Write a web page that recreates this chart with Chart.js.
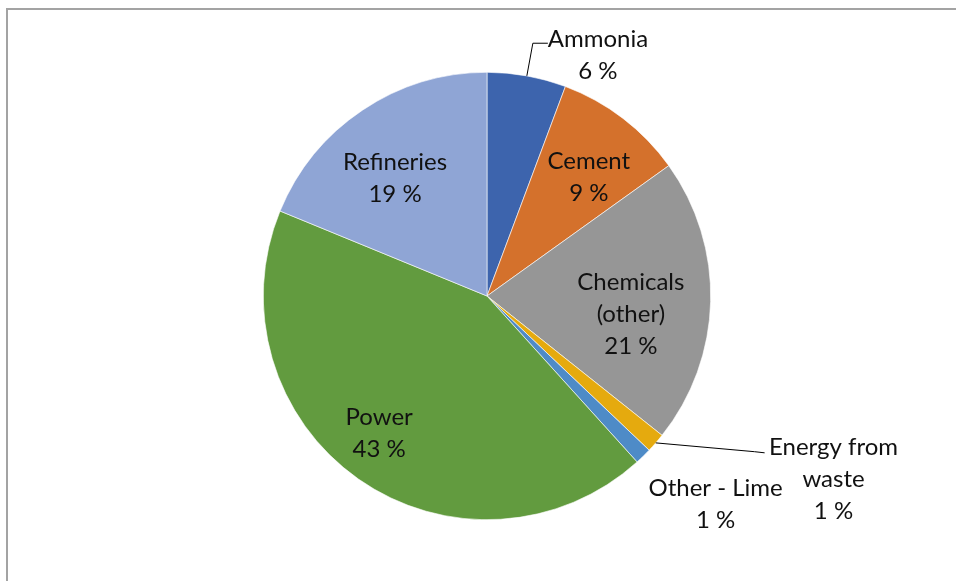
<!DOCTYPE html>
<html>
<head>
<meta charset="utf-8">
<script src="https://cdn.jsdelivr.net/npm/chart.js@4.4.0/dist/chart.umd.min.js"></script>
<style>
    html, body { margin: 0; padding: 0; background: #fff; overflow: hidden; }
    #wrap { position: relative; width: 956px; height: 581px; }
    #frame {
        position: absolute; left: 6px; top: 8px; width: 1000px; height: 1000px;
        border-left: 2px solid #a3a3a3; border-top: 2px solid #a3a3a3;
    }
    canvas { position: absolute; left: 0; top: 0; }
</style>
</head>
<body>
<div id="wrap">
    <div id="frame"></div>
    <canvas id="pie" width="956" height="581"></canvas>
</div>
<script>
// Data
const categories = ['Ammonia', 'Cement', 'Chemicals (other)', 'Energy from waste', 'Other - Lime', 'Power', 'Refineries']
const shares = [5.7, 9.4, 20.6, 1.4, 1.2, 42.9, 18.8]
const colors = ['#3d64ad', '#d4712c', '#969696', '#e5aa0e', '#4e8bc7', '#629b3f', '#8fa5d5']

// label text lines per slice (wrapped like the original)
const labelLines = [
    ['Ammonia'],
    ['Cement'],
    ['Chemicals', '(other)'],
    ['Energy from', 'waste'],
    ['Other - Lime'],
    ['Power'],
    ['Refineries'],
]

// label centres, in units of the pie radius from the pie centre
const labelPos = [
    { x: 0.496, y: -1.078, leader: [[0.205, -1.13], [0.272, -1.13]] },
    { x: 0.455, y: -0.533 },
    { x: 0.643, y: 0.083 },
    { x: 1.549, y: 0.819, leader: [[1.196, 0.696], [1.241, 0.701]] },
    { x: 1.022, y: 0.929 },
    { x: -0.482, y: 0.612 },
    { x: -0.411, y: -0.527 },
]

const lineHeight = 32
const total = shares.reduce((a, b) => a + b, 0)

const labelPlugin = {
    id: 'sliceLabels',
    afterDatasetsDraw(chart) {
        const ctx = chart.ctx
        const meta = chart.getDatasetMeta(0)
        ctx.save()
        ctx.font = '24px Lato, "Noto Sans", sans-serif'
        ctx.fillStyle = '#111'
        ctx.textAlign = 'center'
        ctx.textBaseline = 'middle'
        meta.data.forEach((arc, i) => {
            const { x, y, outerRadius, startAngle, endAngle } = arc.getProps(['x', 'y', 'outerRadius', 'startAngle', 'endAngle'], true)
            const pos = labelPos[i]
            const lines = labelLines[i].concat([Math.round(shares[i] / total * 100) + ' %'])
            const cx = x + pos.x * outerRadius
            const cy = y + pos.y * outerRadius
            const top = cy - (lines.length - 1) * lineHeight / 2
            lines.forEach((t, k) => ctx.fillText(t, cx, top + k * lineHeight))

            if (pos.leader) {
                const mid = (startAngle + endAngle) / 2
                ctx.beginPath()
                ctx.strokeStyle = '#000'
                ctx.lineWidth = 1
                ctx.moveTo(x + Math.cos(mid) * outerRadius, y + Math.sin(mid) * outerRadius)
                pos.leader.forEach(p => ctx.lineTo(x + p[0] * outerRadius, y + p[1] * outerRadius))
                ctx.stroke()
            }
        })
        ctx.restore()
    }
}

new Chart(document.getElementById('pie').getContext('2d'), {
    type: 'pie',
    data: {
        labels: categories,
        datasets: [{
            data: shares,
            backgroundColor: colors,
            borderColor: '#ffffff',
            borderWidth: 0.6,
        }]
    },
    options: {
        responsive: false,
        animation: false,
        layout: { padding: { left: 263, right: 245, top: 72, bottom: 61 } },
        plugins: {
            legend: { display: false },
            tooltip: { enabled: false },
        }
    },
    plugins: [labelPlugin]
})
</script>
</body>
</html>
